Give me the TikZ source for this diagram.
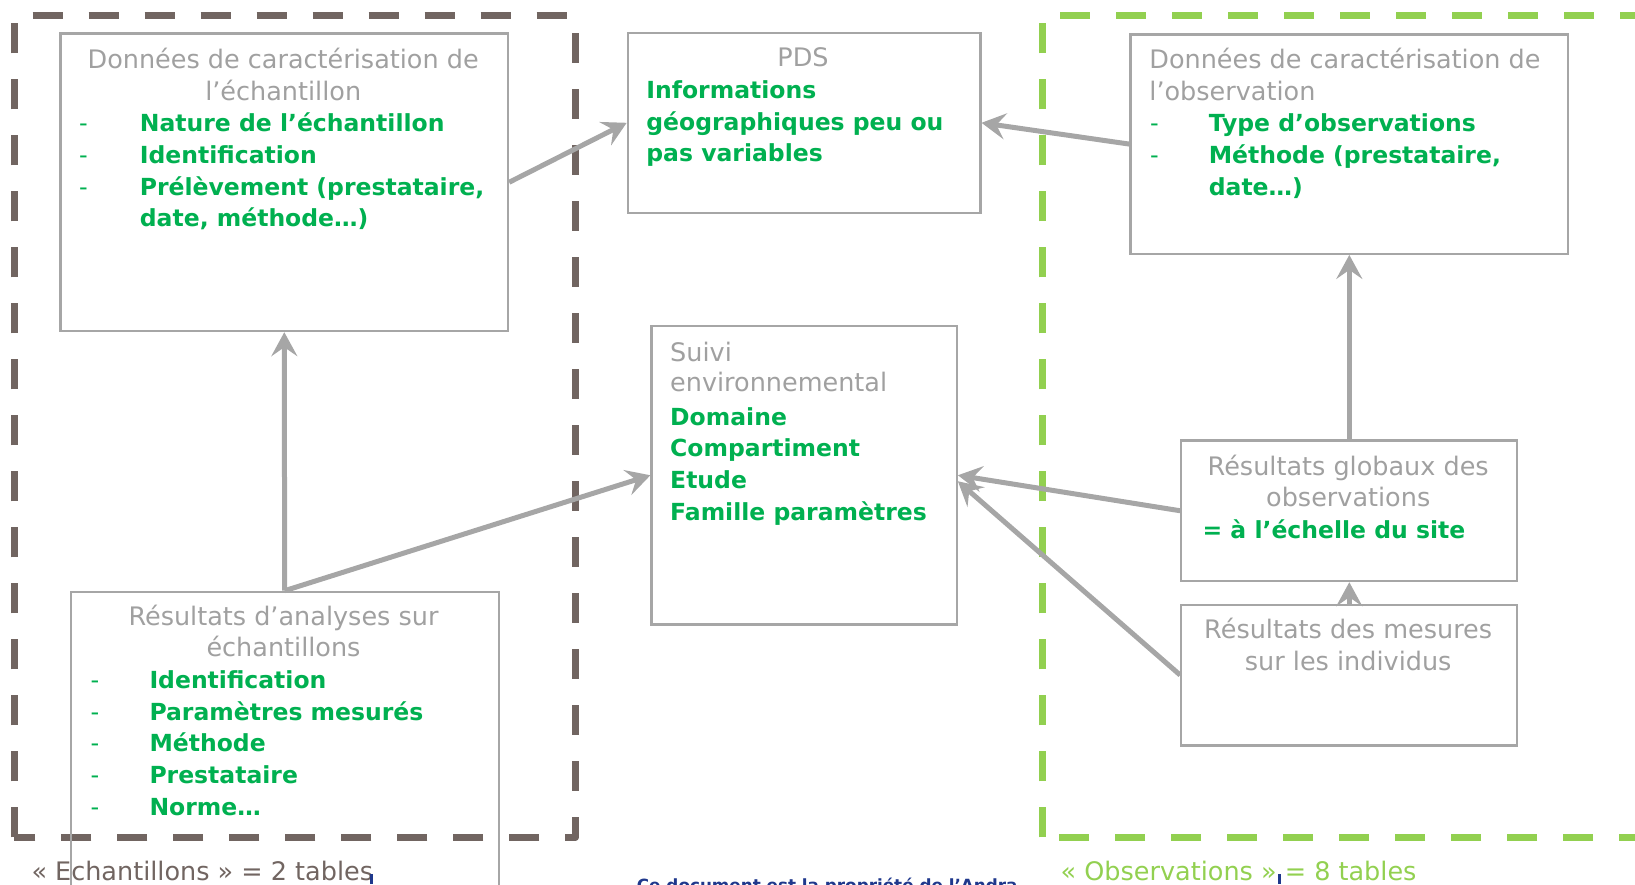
\documentclass[tikz,border=0pt]{standalone}
\usepackage{fontspec}
\setmainfont{DejaVu Sans}
\usetikzlibrary{arrows.meta}
\definecolor{boxgray}{RGB}{166,166,166}
\definecolor{txtgray}{RGB}{160,160,160}
\definecolor{okgreen}{RGB}{0,176,80}
\definecolor{lgreen}{RGB}{146,208,80}
\definecolor{brownish}{RGB}{113,101,97}
\definecolor{andrablue}{RGB}{31,56,140}
\begin{document}
\begin{tikzpicture}[x=1pt,y=-1pt,
  box/.style={draw=boxgray, line width=2.2pt, rectangle, anchor=north west, inner sep=0pt},
  ttl/.style={text=txtgray, font=\fontsize{25.5}{32}\selectfont, inner sep=0pt},
  grn/.style={text=okgreen, font=\fontsize{23.5}{32}\selectfont\bfseries, inner sep=0pt, anchor=base west},
  dsh/.style={text=okgreen, font=\fontsize{24}{32}\selectfont, inner sep=0pt, anchor=base west},
  conn/.style={draw=boxgray, line width=5pt, -{Stealth[length=24pt,width=26pt,inset=9pt]}},
  zone/.style={line width=7pt, dash pattern=on 30pt off 26pt, line join=round},
]
\useasboundingbox (0,0) rectangle (1635,884);
\clip (0,0) rectangle (1635,884);

% dashed zones
\draw[zone, draw=brownish] (14.2,837.3) -- (14.2,15.7) -- (575.2,15.7) -- (575.2,837.3) -- cycle;
\draw[zone, draw=lgreen] (1042,837.3) -- (1042,15.7) -- (1700,15.7) -- (1700,837.3) -- cycle;

% boxes
\node[box, minimum width=447.6pt, minimum height=297.7pt] (b1) at (59.4,32.3) {};
\node[box, minimum width=352.6pt, minimum height=180pt] (pds) at (626.7,31.7) {};
\node[box, minimum width=437.6pt, minimum height=219.4pt] (obs) at (1129.4,33.3) {};
\node[box, minimum width=305.3pt, minimum height=298.3pt] (suivi) at (650.4,325) {};
\node[box, minimum width=336pt, minimum height=140.7pt] (glob) at (1180.2,439.3) {};
\node[box, minimum width=336pt, minimum height=140.6pt] (mes) at (1180.2,603.7) {};
\node[box, minimum width=427.9pt, minimum height=360pt] (ana) at (69.6,590.7) {};

% box 1 text
\node[ttl, anchor=base] (b1t1) at (283.2,68.3) {Données de caractérisation de};
\node[ttl, anchor=base] (b1t2) at (283.2,100) {l’échantillon};
\node[dsh] (b1d1) at (79,131.7) {-};
\node[dsh] (b1d2) at (79,163.3) {-};
\node[dsh] (b1d3) at (79,195) {-};
\node[grn] (b1g1) at (139.7,131.7) {Nature de l’échantillon};
\node[grn] (b1g2) at (139.7,163.3) {Identification};
\node[grn] (b1g3) at (139.7,195) {Prélèvement (prestataire,};
\node[grn] (b1g4) at (139.7,226.7) {date, méthode…)};

% PDS text
\node[ttl, anchor=base] (pdst) at (803,66.7) {PDS};
\node[grn] (pdsg1) at (646.2,98.3) {Informations};
\node[grn] (pdsg2) at (646.2,130) {géographiques peu ou};
\node[grn] (pdsg3) at (646.2,161.7) {pas variables};

% observation box text
\node[ttl, anchor=base west] (obst1) at (1149.2,68.3) {Données de caractérisation de};
\node[ttl, anchor=base west] (obst2) at (1149.2,100) {l’observation};
\node[dsh] (obsd1) at (1150,131.7) {-};
\node[dsh] (obsd2) at (1150,163.3) {-};
\node[grn] (obsg1) at (1208.6,131.7) {Type d’observations};
\node[grn] (obsg2) at (1208.6,163.3) {Méthode (prestataire,};
\node[grn] (obsg3) at (1208.6,195) {date…)};

% suivi text
\node[ttl, anchor=base west] (suit1) at (670,361.7) {Suivi};
\node[ttl, anchor=base west] (suit2) at (670,391.7) {environnemental};
\node[grn] (suig1) at (670,425) {Domaine};
\node[grn] (suig2) at (670,456.7) {Compartiment};
\node[grn] (suig3) at (670,488.3) {Etude};
\node[grn] (suig4) at (670,520) {Famille paramètres};

% global results
\node[ttl, anchor=base] (glot1) at (1348.2,475) {Résultats globaux des};
\node[ttl, anchor=base] (glot2) at (1348.2,506.7) {observations};
\node[grn] (glog1) at (1202.4,538.3) {= à l’échelle du site};

% measures
\node[ttl, anchor=base] (mest1) at (1348.2,638.3) {Résultats des mesures};
\node[ttl, anchor=base] (mest2) at (1348.2,670) {sur les individus};

% analyses
\node[ttl, anchor=base] (anat1) at (283.5,625) {Résultats d’analyses sur};
\node[ttl, anchor=base] (anat2) at (283.5,656.7) {échantillons};
\node[dsh] (anad1) at (90.5,688.3) {-};
\node[dsh] (anad2) at (90.5,720) {-};
\node[dsh] (anad3) at (90.5,751.7) {-};
\node[dsh] (anad4) at (90.5,783.3) {-};
\node[dsh] (anad5) at (90.5,815) {-};
\node[grn] (anag1) at (149.3,688.3) {Identification};
\node[grn] (anag2) at (149.3,720) {Paramètres mesurés};
\node[grn] (anag3) at (149.3,751.7) {Méthode};
\node[grn] (anag4) at (149.3,783.3) {Prestataire};
\node[grn] (anag5) at (149.3,815) {Norme…};

% connectors
\draw[conn] (b1.east) -- (pds.west);
\draw[conn] (ana.north) -- (b1.south);
\draw[conn] (ana.north) -- (suivi.west);
\draw[conn] (obs.west) -- (pds.east);
\draw[conn] (glob.west) -- (suivi.east);
\draw[conn] (mes.west) -- ([yshift=-6pt]suivi.east);
\draw[conn] (glob.north) -- (obs.south);
\draw[conn] (mes.north) -- (glob.south);

% bottom labels
\node[anchor=base west, inner sep=0pt, text=brownish, font=\fontsize{25.5}{30}\selectfont] (lab1) at (31.3,880) {« Echantillons » = 2 tables};
\node[anchor=base west, inner sep=0pt, text=lgreen, font=\fontsize{25.5}{30}\selectfont] (lab2) at (1060.5,880) {« Observations » = 8 tables};
\node[anchor=base west, inner sep=0pt, text=andrablue, font=\fontsize{16.8}{20}\selectfont\bfseries] (prop) at (636.7,891) {Ce document est la propriété de l’Andra};
\draw[andrablue, line width=3pt] (371,874) -- (371,884);
\draw[andrablue, line width=3pt] (1279,874) -- (1279,884);
\end{tikzpicture}
\end{document}
